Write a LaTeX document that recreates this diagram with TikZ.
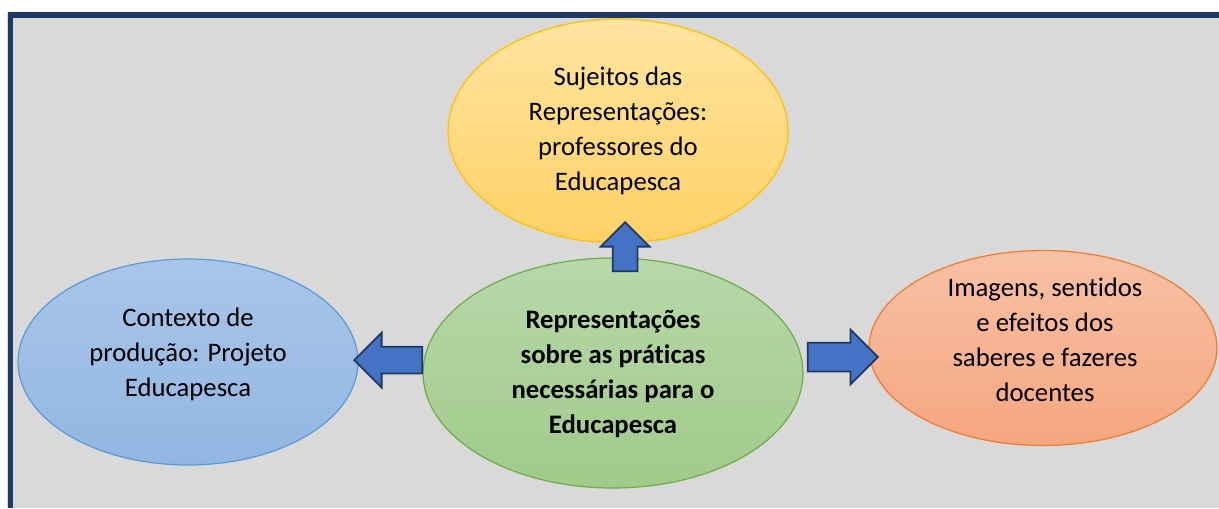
\documentclass[tikz,border=0pt]{standalone}
\usepackage{fontspec}
\setmainfont{Carlito}[Ligatures=NoCommon]
\usetikzlibrary{shapes.geometric,shapes.arrows}
\definecolor{framebl}{HTML}{203864}
\definecolor{bggray}{HTML}{D9D9D9}
\definecolor{arrowbl}{HTML}{4472C4}
\definecolor{yelline}{HTML}{FFC000}
\definecolor{yeltop}{HTML}{FFE4A0}
\definecolor{yelbot}{HTML}{FFD166}
\definecolor{grnline}{HTML}{70AD47}
\definecolor{grntop}{HTML}{B7D8AA}
\definecolor{grnbot}{HTML}{A1CA8A}
\definecolor{bluline}{HTML}{5B9BD5}
\definecolor{blutop}{HTML}{A9C6E9}
\definecolor{blubot}{HTML}{92B6E2}
\definecolor{orgline}{HTML}{ED7D31}
\definecolor{orgtop}{HTML}{F7C1A7}
\definecolor{orgbot}{HTML}{F6A67F}

\begin{document}
\begin{tikzpicture}[x=0.02cm, y=-0.02cm, bubble/.style={ellipse, inner sep=0pt, line width=0.7pt}, words/.style={align=center, inner sep=0pt, font=\fontsize{15.2}{19.9}\selectfont}, bigarrow/.style={single arrow, draw=framebl, line width=1pt, fill=arrowbl, single arrow tip angle=90, anchor=tip}]

\useasboundingbox (0,0) rectangle (1219,508);
\clip (0,0) rectangle (1219,508);
\fill[bggray] (7,12) rectangle (1219,508);
\draw[framebl, line width=0.12cm] (10.5,508) -- (10.5,15) -- (1219,15);

\node[bubble, draw=yelline, top color=yeltop, bottom color=yelbot, minimum width=6.8cm, minimum height=4.48cm] (sujeitos) at (618,131) {};
\node[bubble, draw=bluline, top color=blutop, bottom color=blubot, minimum width=6.8cm, minimum height=4.12cm] (contexto) at (188,362) {};
\node[bubble, draw=grnline, top color=grntop, bottom color=grnbot, minimum width=7.6cm, minimum height=4.6cm] (pratica) at (613,373) {};
\node[bubble, draw=orgline, top color=orgtop, bottom color=orgbot, minimum width=6.96cm, minimum height=3.9cm] (imagens) at (1043,348) {};

\node[words] (tsujeitos) at (618,131) {Sujeitos das\\Representações:\\professores do\\Educapesca};
\node[words] (tcontexto) at (188,354) {Contexto de\\produção: Projeto\\Educapesca};
\node[words, font=\fontsize{15.2}{19.9}\selectfont\bfseries] (tpratica) at (613,374) {Representações\\sobre as práticas\\necessárias para o\\Educapesca};
\node[words] (timagens) at (1045,340) {Imagens, sentidos\\e efeitos dos\\saberes e fazeres\\docentes};

\node[bigarrow, shape border rotate=90, inner sep=0.23cm, minimum height=0.98cm, single arrow head extend=0.24cm] (upar) at (625,221) {};
\node[bigarrow, shape border rotate=180, inner sep=0.25cm, minimum height=1.36cm, single arrow head extend=0.28cm] (leftar) at (353,360) {};
\node[bigarrow, inner sep=0.27cm, minimum height=1.4cm, single arrow head extend=0.26cm] (rightar) at (879,357) {};
\end{tikzpicture}
\end{document}
